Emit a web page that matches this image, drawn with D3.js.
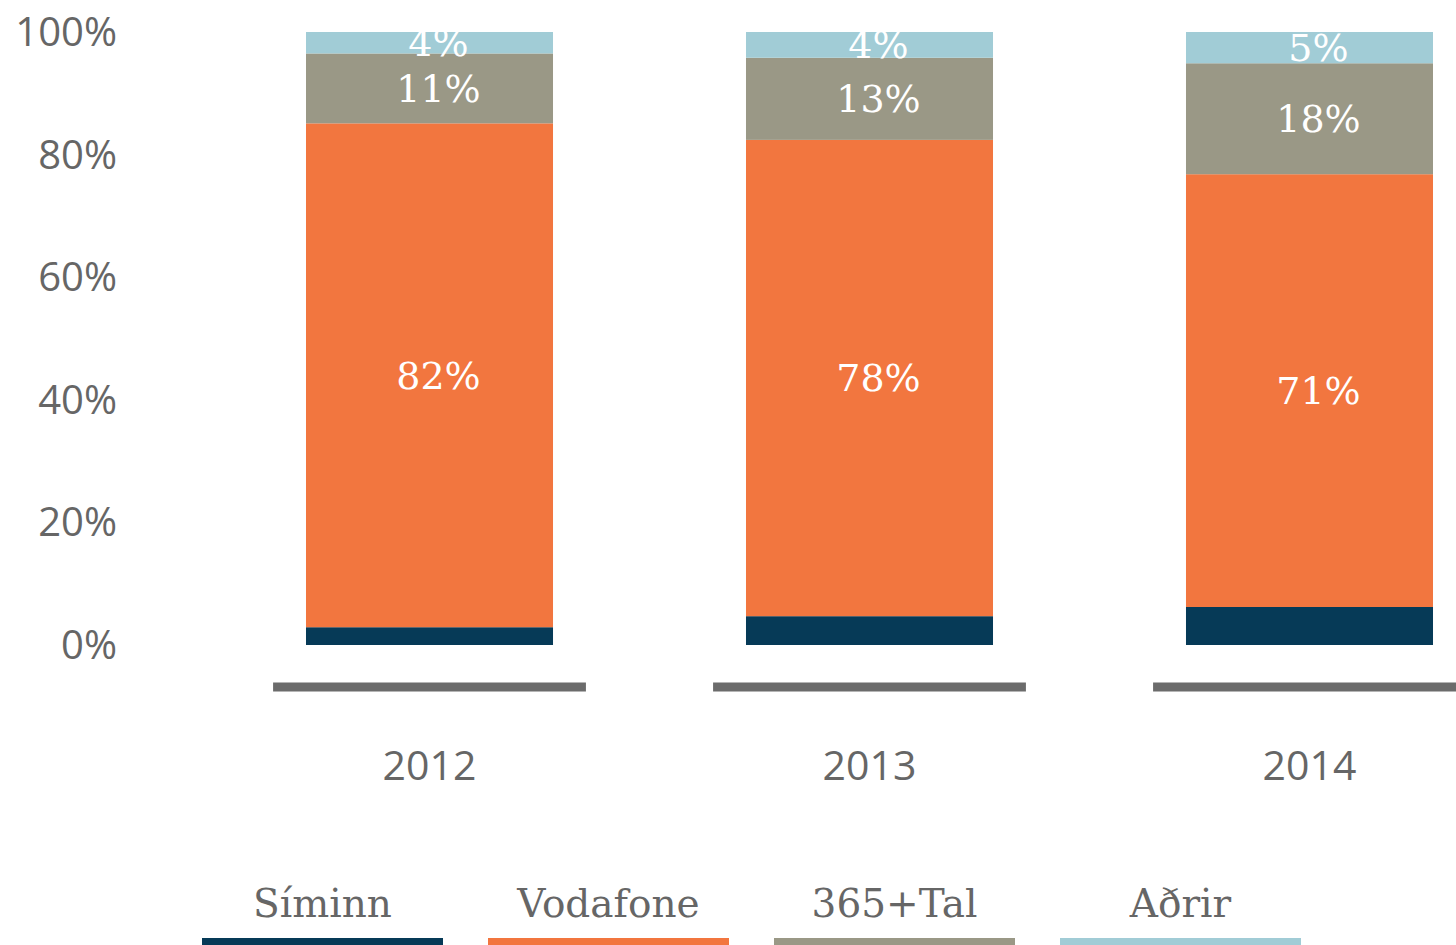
<!DOCTYPE html>
<html>
<head>
<meta charset="utf-8">
<script src="https://cdn.jsdelivr.net/npm/d3@7"></script>
<style>
  html, body { margin: 0; padding: 0; background: #fff; }
  svg { display: block; }
  .sans { font-family: "Open Sans", "DejaVu Sans", sans-serif; fill: #666; }
  .slab { font-family: "DejaVu Serif", serif; }
</style>
</head>
<body>
<svg id="chart" width="1456" height="945"></svg>
<script>
// data (shares in %; labels are rounded)
const years = ["2012", "2013", "2014"];
const operators = ["Síminn", "Vodafone", "365+Tal", "Aðrir"];
const siminn   = [2.9, 4.7, 6.2];
const vodafone = [82.2, 77.7, 70.6];
const tal365   = [11.4, 13.4, 18.1];
const adrir    = [3.5, 4.2, 5.1];
const yTicks = [0, 20, 40, 60, 80, 100];
const colors = ["#063a57", "#f2763f", "#9a9886", "#a1ccd6"];

const svg = d3.select("#chart");

const rows = years.map((y, i) => ({
    year: y,
    "Síminn": siminn[i],
    "Vodafone": vodafone[i],
    "365+Tal": tal365[i],
    "Aðrir": adrir[i]
}));
const series = d3.stack().keys(operators)(rows);

// scales
const x = d3.scaleBand()
    .domain(years)
    .range([86, 1653])
    .paddingInner(0.4386)
    .paddingOuter(0.5);

const y = d3.scaleLinear().domain([0, 100]).range([645, 32]);

const color = d3.scaleOrdinal().domain(operators).range(colors);

// y axis labels
svg.append("g").selectAll("text")
    .data(yTicks).enter().append("text")
    .attr("class", "sans")
    .attr("x", 117)
    .attr("y", d => y(d))
    .attr("dy", "0.35em")
    .attr("text-anchor", "end")
    .style("font-size", "40px")
    .text(d => d + "%");

// bars
const layers = svg.append("g").selectAll("g")
    .data(series).enter().append("g")
    .attr("fill", d => color(d.key));

layers.selectAll("rect")
    .data(d => d).enter().append("rect")
    .attr("x", d => x(d.data.year))
    .attr("width", x.bandwidth())
    .attr("y", d => y(d[1]))
    .attr("height", d => y(d[0]) - y(d[1]));

// segment labels (not for Síminn)
series.slice(1).forEach(s => {
    svg.append("g").selectAll("text")
        .data(s).enter().append("text")
        .attr("class", "slab")
        .attr("x", d => x(d.data.year) + x.bandwidth() / 2 + 9)
        .attr("y", d => (y(d[0]) + y(d[1])) / 2)
        .attr("dy", "0.35em")
        .attr("text-anchor", "middle")
        .style("font-size", "38px")
        .style("fill", "#fff")
        .text(d => Math.round(d[1] - d[0]) + "%");
});

// x axis: a short thick line under each bar plus year label
const axisW = x.step() * 0.711;
const xa = svg.append("g").selectAll("g")
    .data(years).enter().append("g")
    .attr("transform", d => `translate(${x(d) + x.bandwidth() / 2},0)`);

xa.append("line")
    .attr("x1", -axisW / 2).attr("x2", axisW / 2)
    .attr("y1", 687).attr("y2", 687)
    .attr("stroke", "#6b6b6b")
    .attr("stroke-width", 9);

xa.append("text")
    .attr("class", "sans")
    .attr("y", 766)
    .attr("dy", "0.35em")
    .attr("text-anchor", "middle")
    .style("font-size", "41px")
    .text(d => d);

// legend
const lgStep = 286, lgW = 241;
const lg = d3.scaleBand()
    .domain(operators)
    .range([202, 202 + lgStep * 3 + lgW])
    .paddingInner(1 - lgW / lgStep)
    .paddingOuter(0);

const items = svg.append("g").selectAll("g")
    .data(operators).enter().append("g")
    .attr("transform", d => `translate(${lg(d)},0)`);

items.append("rect")
    .attr("y", 938)
    .attr("width", lg.bandwidth())
    .attr("height", 10)
    .attr("fill", d => color(d));

items.append("text")
    .attr("class", "slab")
    .attr("x", lg.bandwidth() / 2)
    .attr("y", 917)
    .attr("text-anchor", "middle")
    .style("font-size", "39px")
    .style("fill", "#666")
    .text(d => d);
</script>
</body>
</html>
